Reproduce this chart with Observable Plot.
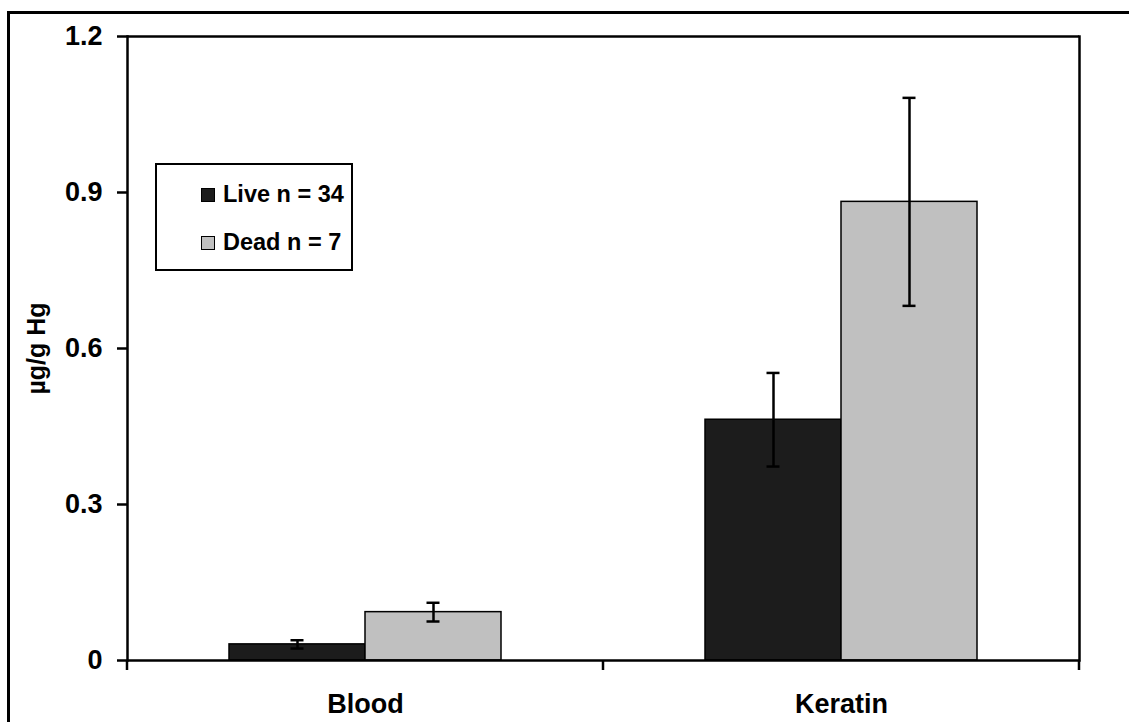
<!DOCTYPE html>
<html>
<head>
<meta charset="utf-8">
<script src="https://cdn.jsdelivr.net/npm/d3@7"></script>
<script src="https://cdn.jsdelivr.net/npm/@observablehq/plot@0.6"></script>
<style>
  html, body { margin: 0; padding: 0; background: #fff; overflow: hidden; }
  #wrap { position: relative; width: 1129px; height: 722px; }
  #border { position: absolute; left: 7px; top: 11px; width: 1200px; height: 800px;
            border-left: 3px solid #000; border-top: 3px solid #000; pointer-events: none; }
  #legend { position: absolute; left: 155px; top: 163px; width: 194px; height: 104px;
            border: 2.5px solid #000; background: #fff;
            font-family: "Liberation Sans", Arial, sans-serif; font-weight: bold; font-size: 23.5px; }
  .item { position: absolute; left: 44px; display: flex; align-items: center; white-space: nowrap; }
  .swatch { width: 12px; height: 12px; border: 1.5px solid #000; margin-right: 8px; }
  #chart svg text { font-family: "Liberation Sans", Arial, sans-serif; font-weight: bold; }
</style>
</head>
<body>
<div id="wrap">
  <div id="chart"></div>
  <div id="border"></div>
  <div id="legend"></div>
</div>
<script>
// Mercury (µg/g Hg) in blood and keratin, live vs dead birds: means with error bars
const tissues = ["Blood", "Keratin"];
const statuses = ["Live", "Dead"];
const counts = [34, 7];
const statusColors = ["#1c1c1c", "#c0c0c0"];

const liveMean = [0.031, 0.463];
const liveErr = [0.008, 0.090];
const deadMean = [0.093, 0.882];
const deadErr = [0.018, 0.200];

const yTicks = [0, 0.3, 0.6, 0.9, 1.2];
const yTickLabels = ["0", "0.3", "0.6", "0.9", "1.2"];
const yLabel = "µg/g Hg";

const rows = [];
tissues.forEach((t, i) => {
  rows.push({tissue: t, status: statuses[0], mean: liveMean[i], lo: liveMean[i] - liveErr[i], hi: liveMean[i] + liveErr[i]});
  rows.push({tissue: t, status: statuses[1], mean: deadMean[i], lo: deadMean[i] - deadErr[i], hi: deadMean[i] + deadErr[i]});
});

const plot = Plot.plot({
  width: 1129,
  height: 722,
  marginLeft: 127,
  marginRight: 50,
  marginTop: 36,
  marginBottom: 62,
  style: {background: "transparent", color: "#000", overflow: "visible"},
  fx: {domain: tissues, padding: 0, label: null, axis: null},
  x: {domain: statuses, paddingInner: 0, paddingOuter: 0.75, axis: null},
  y: {domain: [0, 1.2], axis: null},
  color: {domain: statuses, range: statusColors},
  marks: [
    Plot.barY(rows, {fx: "tissue", x: "status", y: "mean", fill: "status", stroke: "#000", strokeWidth: 1.5}),
    Plot.ruleX(rows, {fx: "tissue", x: "status", y1: "lo", y2: "hi", stroke: "#000", strokeWidth: 2.5}),
    Plot.tickY(rows, {fx: "tissue", x: "status", y: "lo", insetLeft: 61.5, insetRight: 61.5, stroke: "#000", strokeWidth: 2.5}),
    Plot.tickY(rows, {fx: "tissue", x: "status", y: "hi", insetLeft: 61.5, insetRight: 61.5, stroke: "#000", strokeWidth: 2.5}),
    // plot-area box
    Plot.ruleY([0, 1.2], {stroke: "#000", strokeWidth: 2.5}),
    Plot.frame({anchor: "left", facetAnchor: "left", stroke: "#000", strokeWidth: 2.5}),
    Plot.frame({anchor: "right", facetAnchor: "right", stroke: "#000", strokeWidth: 2.5}),
    // axes
    Plot.axisY({ticks: yTicks, tickFormat: (d) => yTickLabels[yTicks.indexOf(d)], tickSize: 10, tickPadding: 15,
                strokeWidth: 2.5, fontSize: 27, label: null}),
    Plot.text([yLabel], {facetAnchor: "left", frameAnchor: "left", textAnchor: "middle", rotate: -90, dx: -91, fontSize: 25, fill: "#000"}),
    Plot.axisFx({anchor: "bottom", tickSize: 0, tickPadding: 33, fontSize: 27, label: null})
  ]
});

document.getElementById("chart").appendChild(plot);

// Tick marks at the category boundaries below the x axis, from the fx band scale
const fx = plot.scale("fx");
const yScale = plot.scale("y");
const y0 = yScale.apply(0);
const edges = fx.domain.map((d) => fx.apply(d));
edges.push(fx.apply(fx.domain[fx.domain.length - 1]) + fx.bandwidth);
d3.select(plot).append("g")
  .selectAll("line")
  .data(edges)
  .join("line")
  .attr("x1", (d) => d).attr("x2", (d) => d)
  .attr("y1", y0).attr("y2", y0 + 10)
  .attr("stroke", "#000").attr("stroke-width", 2.5);

// Legend
const legend = d3.select("#legend");
statuses.forEach((s, i) => {
  const item = legend.append("div").attr("class", "item").style("top", (i === 0 ? 16 : 64) + "px");
  item.append("div").attr("class", "swatch").style("background", statusColors[i]);
  item.append("span").text(`${s} n = ${counts[i]}`);
});
</script>
</body>
</html>
